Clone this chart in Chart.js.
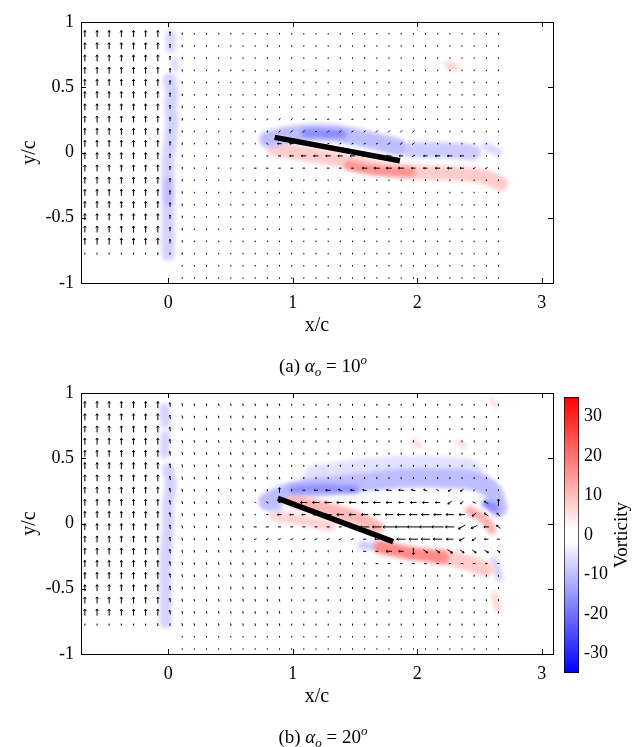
<!DOCTYPE html>
<html>
<head>
<meta charset="utf-8">
<script src="https://cdn.jsdelivr.net/npm/chart.js@4.4.0/dist/chart.umd.min.js"></script>
<style>
  body { margin: 0; background: #fff; }
  #fig { position: relative; width: 639px; height: 747px; }
  canvas { position: absolute; }
</style>
</head>
<body>
<div id="fig">
  <canvas id="panelA" width="639" height="376" style="left:0;top:0"></canvas>
  <canvas id="panelB" width="639" height="376" style="left:0;top:371px"></canvas>
  <canvas id="cbar" width="99" height="290" style="left:540px;top:390px"></canvas>
</div>
<script>
// axes
const xTicks = [0, 1, 2, 3];
const yTicks = [-1, -0.5, 0, 0.5, 1];
const cbTicks = [-30, -20, -10, 0, 10, 20, 30];
const xRange = [-0.7, 3.09];
const yRange = [-1, 1];
const cbRange = [-35, 35];

const captionTags = ['(a)', '(b)'];
const pitchAngles = ['10', '20'];

// PIV grid (x/c, y/c)
const gridX = [-0.669, -0.571, -0.474, -0.376, -0.278, -0.181, -0.083, 0.015, 0.113, 0.210,
  0.308, 0.406, 0.503, 0.601, 0.699, 0.796, 0.894, 0.992, 1.089, 1.187, 1.285, 1.382,
  1.480, 1.578, 1.676, 1.773, 1.871, 1.969, 2.066, 2.164, 2.262, 2.359, 2.457, 2.555, 2.652];
const gridY = [0.910, 0.816, 0.723, 0.629, 0.536, 0.442, 0.348, 0.255, 0.161, 0.068, -0.026,
  -0.120, -0.213, -0.307, -0.400, -0.494, -0.588, -0.681, -0.775, -0.868, -0.962];
const lowRowFirst = 19;   // last two rows only exist right of the left window
const lowColFirst = 8;
const vLow = 1;

// velocity outside the wake, per column
const uA = [0, 0, 0, 0, 0, 0, 0, 0, 0, 0, 0, 0, 0, 0, 0, 0, 0, 0, 0, 0, 0, 0, 0, 0, 0, 0, 0, 0, 0, 0, 0, 0, 0, 0, 0];
const vA = [6.5, 6.5, 6.5, 6.5, 6.5, 6.5, 6.5, 4, 2.5, 1.5, 1.5, 1.5, 1.5, 1.5, 1.5, 1.5, 1.5, 1.5,
  1.5, 1.5, 1.5, 1.5, 1.5, 1.5, 1.5, 1.5, 1.5, 1.5, 1.5, 1.5, 1.5, 1.5, 1.5, 1.5, 1.5];
const uB = [0, 0, 0, 0, 0, 0, 0, -0.6, -0.6, -0.5, -0.5, -0.5, -0.5, -0.5, -0.5, -0.5, -0.5,
  0, 0, 0, 0, 0, 0, 0, 0, 0, 0, 0, 0, 0, 0, 0, 0, 0, 0];
const vB = [6.5, 6.5, 6.5, 6.5, 6.5, 6.5, 6.5, 4, 3, 2.5, 2.5, 2.5, 2.5, 2.5, 2.5, 2.5, 2.5,
  2, 2, 2, 2, 2, 2, 2, 2, 2, 2, 2, 2, 2, 2, 2, 2, 2, 2];

// wake rows: [row, first column, u values, v values]
const wakeA = [
  [7, 15, [-1.5, -1.5, -1.5, -2, -2, -2, -2, -2, -2], [-2, -2, -2, -0.5, -0.5, -0.5, -0.5, -0.5, -0.5]],
  [8, 15, [0, -2, -2, -2, -2, -2, -2, -2, -2, -2, -2, -2, -2], [-2, -2, -2, -2, 0, -2, -2, -1.5, -1.5, -2, -2, -2, -2]],
  [9, 14, [-1, -2, -4, -4, -4, -4, -2, -2, -2, -2, -2, -2.5, -2.5, -2.5], [0, 1.5, 0, 0, 0, 0, -1, -1, -1, -1, -1, -2, -2, -2]],
  [10, 14, [-1, -2, -3, -4, -5, -5, -5, -5, -5, -5, -5, -5, -4, -3, -4, -5, -5, -4, -2],
    [0, 0, 0, 0, 0, 0, 0, 0, 0, 0, 0, 0, 0, -1.5, 0, 0, 0, 0, 0]],
  [11, 14, [-2.5, -2.5, -2.5, -2.5, -2.5, -2.5, -2.5, -2.5, -2.5, -5, -6, -6, -6, -4, -4, -5, -5, -4, -2.5, -2.5],
    [0, 0, 0, 0, 0, 0, 0, 0, 0, 0, 0, 0, 0, 0, 0, 0, 0, 0, -1.5, -1.5]],
  [18, 0, [0, 0, 0, 0, 0, 0, 0, 0], [2, 2, 2, 2, 2, 2, 3, 2.5]]
];
const wakeB = [
  [7, 15, [0, 0, 0, -3, -4, -5, -3.5, -4, -4, -4, -5, -5, -4, -3.5, -2.5, -3, -3, -2, 0, 0],
    [2, 5, 2.5, 0, 0, 0, 1.5, 0.5, 0.5, 0.5, 0.5, 0.5, 1, 1.5, 1.5, -2, -2, -1.5, 1, 1]],
  [8, 14, [-1.5, -2, -2, -4, -7, -7, -7, -7, -7, -7, -7, -6, -5, -6, -6, -5, -4, -3, -3, -4, 0],
    [1.5, 1.5, 0, 0, 0, 0, 0, 0, 0, 0, 0, 0, 0, 0, 0, 0, -3, -2.5, 1.5, 2.5, 7]],
  [9, 14, [-1, -2, -4, -4, -4, -5, -7, -7, -7, -7, -7, -8, -8, -8, -8, -8, -8, -6, -4, -4, -3],
    [0, 0, 0, 0, 0, 0, 0, 0, 0, 0, 0, 0, 0, 0, 0, 0, 0, 0, -3, 3, 3]],
  [10, 14, [-3, -3, -3, -3, -3, -3, -3, -3, -4, -9, -9, -12, -12, -12, -12, -12, -9, -7, -6, -5, -4],
    [0, 0, 0, 0, 0, 0, 0, 0, 0, 0, 0, 0, 0, 0, 0, 0, 0, -4, -3, 0, 3]],
  [11, 14, [-2.5, -2.5, -2.5, -2.5, -2.5, -2.5, -2.5, -2.5, -2.5, -3, -4, -6, -9, -9, -9, -9, -7, -5, -4, -4, -3],
    [-1, -1, -1, -1, -1, -1, -1, -1, -1, 0, 0, 0, 0, 0, 0, 0, 0, -3, -3, 0, 0]],
  [12, 14, [0, 0, 0, 0, 0, 0, 0, 0, 0, -3, -3, -6, -5, 0, 4, 4, 5, 4, 4, 4, 3],
    [-2, -2, -2, -2, -2, -2, -2, -2, -2, 0, 0, 0, 0, -7, -3, -3, -3.5, -3, -3, -2.5, -2]],
  [13, 24, [-2.5, -2.5, -2.5, -2.5, -2.5, -2.5, -2.5, -2.5, -2.5, -2.5, -2.5],
    [0, 0, 0, 0, 0, 0, 0, 0, 0, 0, 0]],
  [18, 0, [0, 0, 0, 0, 0, 0, 0, 0], [2, 2, 2, 2, 2, 2, 3, 2.5]]
];

// plate chord lines
const plateAX = [0.855, 1.861], plateAY = [0.116, -0.063];
const plateBX = [0.881, 1.807], plateBY = [0.193, -0.139];

// vorticity sheets: [vorticity, thickness (c), x points, y points]
const vortA = [
  [-5, 0.08, [0.02, 0.02], [0.90, 0.80]],
  [-5, 0.06, [0.05, 0.06], [0.70, 0.65]],
  [-6, 0.10, [0.01, 0.03, 0.02, 0.03, 0.02, 0.00, 0.00, 0.00, 0.00, 0.00, 0.00],
    [0.56, 0.45, 0.35, 0.25, 0.10, -0.05, -0.20, -0.35, -0.50, -0.65, -0.78]],
  [-9, 0.06, [0.0, 0.0], [-0.22, -0.38]],
  [-9, 0.13, [0.80, 1.00, 1.30, 1.60, 1.85], [0.10, 0.14, 0.15, 0.10, 0.04]],
  [-16, 0.06, [1.10, 1.40], [0.15, 0.14]],
  [-7, 0.12, [1.95, 2.20, 2.45], [0.02, 0.02, 0.00]],
  [-5, 0.07, [2.55, 2.65], [0.05, 0.00]],
  [-5, 0.06, [2.60, 2.66], [-0.20, -0.22]],
  [7, 0.11, [0.85, 1.10, 1.40, 1.70, 2.00, 2.30, 2.55, 2.67], [0.03, -0.01, -0.06, -0.12, -0.15, -0.16, -0.19, -0.24]],
  [15, 0.07, [1.45, 1.70, 1.95], [-0.10, -0.14, -0.15]],
  [6, 0.06, [2.25, 2.30], [0.67, 0.65]],
  [5, 0.04, [-0.09, -0.08], [-0.66, -0.68]]
];
const vortB = [
  [-6, 0.08, [-0.03, -0.02], [0.88, 0.77]],
  [-6, 0.07, [-0.02, -0.03], [0.68, 0.53]],
  [-6, 0.09, [0.00, 0.02, 0.00, 0.00, -0.01, -0.02, -0.02, -0.02, -0.02], [0.42, 0.30, 0.15, 0.00, -0.15, -0.30, -0.50, -0.65, -0.76]],
  [-4, 0.24, [1.20, 1.60, 2.00, 2.40], [0.33, 0.38, 0.40, 0.38]],
  [-9, 0.14, [0.80, 1.00, 1.30, 1.60, 1.90, 2.20, 2.45, 2.60, 2.65], [0.17, 0.25, 0.29, 0.32, 0.35, 0.35, 0.33, 0.25, 0.12]],
  [-15, 0.06, [1.00, 1.25, 1.50], [0.26, 0.27, 0.26]],
  [-16, 0.06, [2.55, 2.62], [0.15, 0.12]],
  [-7, 0.07, [0.78, 0.88], [0.16, 0.12]],
  [-7, 0.06, [1.55, 1.80], [-0.17, -0.18]],
  [-6, 0.06, [2.62, 2.66], [-0.28, -0.42]],
  [6, 0.08, [0.85, 1.10, 1.30], [0.06, 0.02, -0.02]],
  [10, 0.10, [1.00, 1.20, 1.40, 1.55, 1.68], [0.17, 0.13, 0.08, 0.03, -0.03]],
  [7, 0.12, [2.20, 2.40, 2.55], [-0.25, -0.30, -0.35]],
  [16, 0.10, [1.70, 1.90, 2.05, 2.20], [-0.18, -0.22, -0.24, -0.26]],
  [11, 0.07, [2.42, 2.55, 2.60], [0.10, 0.02, -0.05]],
  [6, 0.05, [2.50, 2.62], [0.30, 0.22]],
  [5, 0.05, [1.97, 2.02], [0.62, 0.60]],
  [5, 0.05, [2.33, 2.37], [0.62, 0.60]],
  [5, 0.04, [2.60, 2.63], [0.95, 0.90]],
  [5, 0.06, [2.62, 2.65], [-0.55, -0.65]]
];

const SERIF = "'Liberation Serif', 'DejaVu Serif', serif";
const QUIVER_SCALE = 1;

function vortColor(w) {
  const t = Math.max(-1, Math.min(1, w / cbRange[1]));
  const c = Math.round(255 * (1 - Math.abs(t)));
  return t >= 0 ? `rgb(255,${c},${c})` : `rgb(${c},${c},255)`;
}

function buildQuiver(colU, colV, wake) {
  const u = gridY.map(() => colU.slice());
  const v = gridY.map(() => colV.slice());
  wake.forEach(([r, c0, us, vs]) => us.forEach((val, k) => { u[r][c0 + k] = val; v[r][c0 + k] = vs[k]; }));
  const pts = [];
  gridY.forEach((y, r) => gridX.forEach((x, c) => {
    if (r >= lowRowFirst) {
      if (c < lowColFirst) return;
      pts.push({ x, y, u: 0, v: vLow });
    } else {
      pts.push({ x, y, u: u[r][c], v: v[r][c] });
    }
  }));
  return pts;
}

// draws arrows on the points that Chart.js placed
const quiverPlugin = {
  id: 'quiver',
  afterDatasetDraw(chart, args) {
    const ds = chart.data.datasets[args.index];
    if (!ds.quiver) return;
    const ctx = chart.ctx;
    ctx.save();
    ctx.strokeStyle = '#000';
    ctx.lineWidth = 1;
    args.meta.data.forEach((pt, i) => {
      const d = ds.data[i];
      let dx = d.u * QUIVER_SCALE, dy = -d.v * QUIVER_SCALE;
      let len = Math.hypot(dx, dy);
      if (len < 1.5) { dx = 0; dy = -1.5; len = 1.5; }
      const x0 = pt.x - dx / 2, y0 = pt.y - dy / 2, x1 = pt.x + dx / 2, y1 = pt.y + dy / 2;
      ctx.beginPath();
      ctx.moveTo(x0, y0);
      ctx.lineTo(x1, y1);
      if (len >= 3.5) {
        const h = Math.min(2.2, len * 0.35), a = Math.atan2(dy, dx);
        ctx.moveTo(x1 - h * Math.cos(a - 0.6), y1 - h * Math.sin(a - 0.6));
        ctx.lineTo(x1, y1);
        ctx.lineTo(x1 - h * Math.cos(a + 0.6), y1 - h * Math.sin(a + 0.6));
      }
      ctx.stroke();
    });
    ctx.restore();
  }
};

// soft edges for the vorticity sheets
const softPlugin = {
  id: 'soften',
  beforeDatasetDraw(chart, args) {
    if (chart.data.datasets[args.index].soft) { chart.ctx.save(); chart.ctx.filter = 'blur(2px)'; }
  },
  afterDatasetDraw(chart, args) {
    if (chart.data.datasets[args.index].soft) chart.ctx.restore();
  }
};

// inward tick marks on all four sides
const innerTicksPlugin = {
  id: 'innerTicks',
  afterDraw(chart) {
    const { ctx, chartArea: a, scales } = chart;
    ctx.save();
    ctx.strokeStyle = '#000';
    ctx.lineWidth = 1;
    ctx.beginPath();
    scales.x.ticks.forEach(t => {
      const p = Math.round(scales.x.getPixelForValue(t.value)) + 0.5;
      ctx.moveTo(p, a.bottom); ctx.lineTo(p, a.bottom - 5);
      ctx.moveTo(p, a.top); ctx.lineTo(p, a.top + 5);
    });
    scales.y.ticks.forEach(t => {
      const p = Math.round(scales.y.getPixelForValue(t.value)) + 0.5;
      ctx.moveTo(a.left, p); ctx.lineTo(a.left + 5, p);
      ctx.moveTo(a.right, p); ctx.lineTo(a.right - 5, p);
    });
    ctx.stroke();
    ctx.restore();
  }
};

const captionPlugin = {
  id: 'caption',
  afterDraw(chart, args, opts) {
    const ctx = chart.ctx, a = chart.chartArea;
    const size = 19, small = 13;
    const parts = [
      [opts.tag + ' ', `${size}px ${SERIF}`, 0],
      ['\u03B1', `italic ${size}px ${SERIF}`, 0],
      ['o', `italic ${small}px ${SERIF}`, 4],
      [' = ' + opts.angle, `${size}px ${SERIF}`, 0],
      ['o', `italic ${small}px ${SERIF}`, -8]
    ];
    ctx.save();
    ctx.fillStyle = '#000';
    ctx.textBaseline = 'alphabetic';
    ctx.textAlign = 'left';
    let w = 0;
    parts.forEach(p => { ctx.font = p[1]; w += ctx.measureText(p[0]).width; });
    let x = (a.left + a.right) / 2 + 6 - w / 2;
    const y = a.bottom + 89;
    parts.forEach(p => {
      ctx.font = p[1];
      ctx.fillText(p[0], x, y + p[2]);
      x += ctx.measureText(p[0]).width;
    });
    ctx.restore();
  }
};

function thicknessPx(chart, t) {
  const s = chart.scales.y;
  return Math.abs(s.getPixelForValue(0) - s.getPixelForValue(t));
}

function panel(canvasId, vort, plateX, plateY, quiverPts, tag, angle) {
  const H = document.getElementById(canvasId).height;
  const datasets = [
    { type: 'line', data: plateX.map((x, i) => ({ x, y: plateY[i] })), borderColor: '#000',
      borderWidth: 5.5, pointRadius: 0, order: 0 },
    { type: 'scatter', data: quiverPts, pointRadius: 0, pointHoverRadius: 0, quiver: true, order: 1 }
  ];
  vort.forEach(([w, t, xs, ys]) => datasets.push({
    type: 'line',
    data: xs.map((x, i) => ({ x, y: ys[i] })),
    borderColor: vortColor(w),
    borderWidth: c => thicknessPx(c.chart, t),
    borderCapStyle: 'round',
    borderJoinStyle: 'round',
    tension: 0.4,
    pointRadius: 0,
    soft: true,
    order: 100 - Math.abs(w)
  }));
  const tickFont = { family: SERIF, size: 18 };
  const frame = { display: true, color: '#000', width: 1 };
  return new Chart(document.getElementById(canvasId), {
    type: 'scatter',
    data: { datasets },
    options: {
      responsive: false,
      animation: false,
      events: [],
      layout: { padding: { top: 22, left: 0, right: 0, bottom: 0 } },
      plugins: { legend: { display: false }, tooltip: { enabled: false }, caption: { tag, angle } },
      scales: {
        x: {
          type: 'linear', position: 'bottom', min: xRange[0], max: xRange[1],
          afterBuildTicks: s => { s.ticks = xTicks.map(value => ({ value })); },
          afterFit: s => { s.height = H - 283; },
          ticks: { font: tickFont, color: '#000', padding: 9, maxRotation: 0, autoSkip: false, callback: v => String(v) },
          grid: { drawOnChartArea: false, drawTicks: false },
          border: frame,
          title: { display: true, text: 'x/c', color: '#000', font: { family: SERIF, size: 20 }, padding: { top: 0, bottom: 38 } }
        },
        xTop: {
          type: 'linear', position: 'top', min: xRange[0], max: xRange[1],
          afterFit: s => { s.height = 0; },
          ticks: { display: false },
          grid: { drawOnChartArea: false, drawTicks: false },
          border: frame
        },
        y: {
          type: 'linear', position: 'left', min: yRange[0], max: yRange[1],
          afterBuildTicks: s => { s.ticks = yTicks.map(value => ({ value })); },
          afterFit: s => { s.width = 81; },
          ticks: { font: tickFont, color: '#000', padding: 7, callback: v => String(v) },
          grid: { drawOnChartArea: false, drawTicks: false },
          border: frame,
          title: { display: true, text: 'y/c', color: '#000', font: { family: SERIF, size: 20 }, padding: { top: 18, bottom: 0 } }
        },
        yRight: {
          type: 'linear', position: 'right', min: yRange[0], max: yRange[1],
          afterFit: s => { s.width = 639 - 553; },
          ticks: { display: false },
          grid: { drawOnChartArea: false, drawTicks: false },
          border: frame
        }
      }
    },
    plugins: [softPlugin, quiverPlugin, innerTicksPlugin, captionPlugin]
  });
}

panel('panelA', vortA, plateAX, plateAY, buildQuiver(uA, vA, wakeA), captionTags[0], pitchAngles[0]);
panel('panelB', vortB, plateBX, plateBY, buildQuiver(uB, vB, wakeB), captionTags[1], pitchAngles[1]);

// colour bar
const cbTitlePlugin = {
  id: 'cbTitle',
  afterDraw(chart) {
    const ctx = chart.ctx, a = chart.chartArea;
    ctx.save();
    ctx.fillStyle = '#000';
    ctx.font = `19px ${SERIF}`;
    ctx.textAlign = 'center';
    ctx.textBaseline = 'middle';
    ctx.translate(82, (a.top + a.bottom) / 2);
    ctx.rotate(-Math.PI / 2);
    ctx.fillText('Vorticity', 0, 0);
    ctx.restore();
  }
};

new Chart(document.getElementById('cbar'), {
  type: 'bar',
  data: {
    labels: [''],
    datasets: [{
      data: [cbRange],
      backgroundColor: c => {
        const chart = c.chart, s = chart.scales.y;
        if (!chart.chartArea) return '#fff';
        const y0 = s.getPixelForValue(cbRange[0]), y1 = s.getPixelForValue(cbRange[1]);
        const g = chart.ctx.createLinearGradient(0, y0, 0, y1);
        const f = v => (v - cbRange[0]) / (cbRange[1] - cbRange[0]);
        g.addColorStop(0, vortColor(cbRange[0]));
        g.addColorStop(f(-1.5), '#fff');
        g.addColorStop(f(1.5), '#fff');
        g.addColorStop(1, vortColor(cbRange[1]));
        return g;
      },
      borderColor: '#000',
      borderWidth: 1,
      borderSkipped: false,
      barPercentage: 1,
      categoryPercentage: 1
    }]
  },
  options: {
    responsive: false,
    animation: false,
    events: [],
    layout: { padding: { left: 24, top: 7, bottom: 7, right: 0 } },
    plugins: { legend: { display: false }, tooltip: { enabled: false } },
    scales: {
      x: { display: false },
      y: {
        position: 'right', min: cbRange[0], max: cbRange[1],
        afterBuildTicks: s => { s.ticks = cbTicks.map(value => ({ value })); },
        afterFit: s => { s.width = 60; s.paddingTop = 0; s.paddingBottom = 0; },
        ticks: { font: { family: SERIF, size: 18 }, color: '#000', padding: 5 },
        grid: { display: false, drawTicks: false },
        border: { display: false }
      }
    }
  },
  plugins: [cbTitlePlugin]
});
</script>
</body>
</html>
